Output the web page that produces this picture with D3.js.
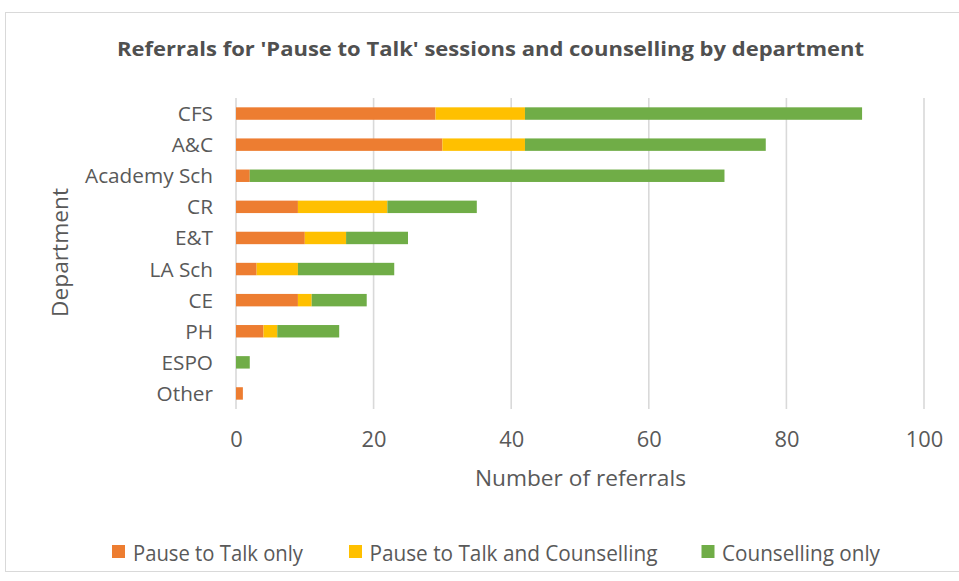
<!DOCTYPE html>
<html>
<head>
<meta charset="utf-8">
<script src="https://cdn.jsdelivr.net/npm/d3@7/dist/d3.min.js"></script>
<style>
  html, body { margin: 0; padding: 0; background: #ffffff; }
  svg { display: block; font-family: "Open Sans", Lato, sans-serif; }
</style>
</head>
<body>
<svg id="chart" width="959" height="581"></svg>
<script>
// Departments, top to bottom
const departments = ["CFS", "A&C", "Academy Sch", "CR", "E&T", "LA Sch", "CE", "PH", "ESPO", "Other"];

// Referral counts per department for each series
const pauseOnly       = [29, 30, 2, 9, 10, 3, 9, 4, 0, 1];
const pauseAndCouns   = [13, 12, 0, 13, 6, 6, 2, 2, 0, 0];
const counsellingOnly = [49, 35, 69, 13, 9, 14, 8, 9, 2, 0];

const seriesNames  = ["Pause to Talk only", "Pause to Talk and Counselling", "Counselling only"];
const seriesColors = ["#ED7D31", "#FFC000", "#70AD47"];
const xTicks = [0, 20, 40, 60, 80, 100];

const svg = d3.select("#chart");
const textColor = "#595959";

// stretch or shrink a text element to a given rendered width
function fitWidth(sel, width) {
  sel.attr("textLength", width).attr("lengthAdjust", "spacingAndGlyphs");
}
// pick a font size so that a reference label renders at a given width
function fitSize(sel, refText, width, base) {
  const probe = svg.append("text").attr("font-size", base).text(refText);
  const w = probe.node().getComputedTextLength();
  probe.remove();
  sel.attr("font-size", base * width / w);
}

// outer chart frame
svg.append("rect")
  .attr("x", 5.5).attr("y", 12.5)
  .attr("width", 965).attr("height", 559)
  .attr("fill", "#ffffff").attr("stroke", "#d9d9d9").attr("stroke-width", 1);

const plot = { left: 236, right: 924, top: 98, bottom: 409 };

const x = d3.scaleLinear().domain([0, 100]).range([plot.left, plot.right]);
const y = d3.scaleBand().domain(departments).range([plot.top, plot.bottom]).paddingInner(0.6).paddingOuter(0.3);

// gridlines
svg.append("g")
  .selectAll("line")
  .data(xTicks)
  .join("line")
  .attr("x1", d => x(d)).attr("x2", d => x(d))
  .attr("y1", plot.top).attr("y2", plot.bottom)
  .attr("stroke", "#d9d9d9").attr("stroke-width", 1.6);

// stacked bars
const rows = departments.map((d, i) => ({
  dept: d,
  "Pause to Talk only": pauseOnly[i],
  "Pause to Talk and Counselling": pauseAndCouns[i],
  "Counselling only": counsellingOnly[i]
}));
const stacked = d3.stack().keys(seriesNames)(rows);

svg.append("g")
  .selectAll("g")
  .data(stacked)
  .join("g")
  .attr("fill", (d, i) => seriesColors[i])
  .selectAll("rect")
  .data(d => d.filter(s => s[1] - s[0] > 0))
  .join("rect")
  .attr("x", d => x(d[0]))
  .attr("y", d => y(d.data.dept))
  .attr("width", d => x(d[1]) - x(d[0]))
  .attr("height", y.bandwidth());

// x axis tick labels
const xAxis = d3.axisBottom(x).tickValues(xTicks).tickSize(0).tickPadding(0);
const gx = svg.append("g")
  .attr("transform", `translate(0, ${plot.bottom + 38})`)
  .call(xAxis);
gx.select(".domain").remove();
gx.selectAll("text")
  .attr("fill", textColor).attr("dy", 0)
  .style("font-family", "'Open Sans', sans-serif")
  .call(fitSize, "20", 25, 20);

// y axis category labels
const yAxis = d3.axisLeft(y).tickSize(0).tickPadding(23);
const gy = svg.append("g")
  .attr("transform", `translate(${plot.left}, 0)`)
  .call(yAxis);
gy.select(".domain").remove();
gy.selectAll("text")
  .attr("fill", textColor).attr("dy", "0.36em")
  .style("font-family", "'Open Sans', sans-serif")
  .call(fitSize, "Academy Sch", 128, 20);

// chart title
svg.append("text")
  .attr("x", 490.5).attr("y", 56)
  .attr("text-anchor", "middle")
  .attr("fill", "#505050").attr("font-size", 20).attr("font-weight", "bold")
  .text("Referrals for 'Pause to Talk' sessions and counselling by department")
  .call(fitWidth, 747);

// axis titles
svg.append("text")
  .attr("x", 580.5).attr("y", 486)
  .attr("text-anchor", "middle")
  .attr("fill", textColor).attr("font-size", 21)
  .text("Number of referrals")
  .call(fitWidth, 211);

svg.append("text")
  .attr("transform", "translate(68, 252.5) rotate(-90)")
  .attr("text-anchor", "middle")
  .attr("fill", textColor).attr("font-size", 21)
  .text("Department")
  .call(fitWidth, 129);

// legend
const legendX = [112, 349, 701.5];
const legendW = [170, 288, 158];
const legend = svg.append("g")
  .selectAll("g")
  .data(seriesNames)
  .join("g")
  .attr("transform", (d, i) => `translate(${legendX[i]}, 545)`);
legend.append("rect")
  .attr("x", 0).attr("y", 0).attr("width", 13).attr("height", 13)
  .attr("fill", (d, i) => seriesColors[i]);
legend.append("text")
  .attr("x", (d, i) => i === 0 ? 21 : 20.5).attr("y", 16)
  .attr("fill", textColor).attr("font-size", 21)
  .text(d => d)
  .each(function (d, i) { d3.select(this).call(fitWidth, legendW[i]); });
</script>
</body>
</html>
